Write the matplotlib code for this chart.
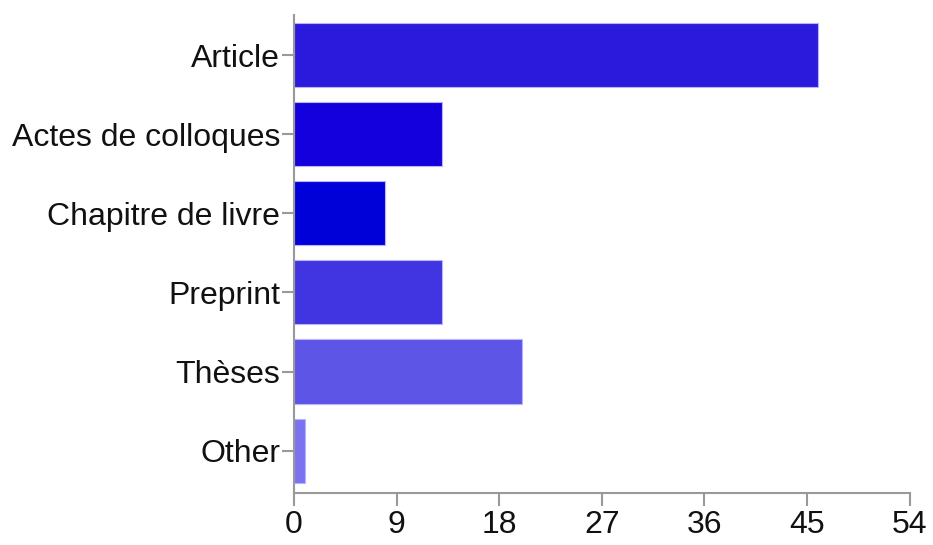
import matplotlib
matplotlib.use("Agg")
import matplotlib.pyplot as plt

categories = ["Article", "Actes de colloques", "Chapitre de livre",
              "Preprint", "Thèses", "Other"]
counts = [46, 13, 8, 13, 20, 1]
colors = ["#2b19dc", "#1400dc", "#0000d8", "#4035e0", "#5c55e6", "#7a72ee"]
xticks = [0, 9, 18, 27, 36, 45, 54]

plt.rcParams['font.family'] = ['Liberation Sans', 'DejaVu Sans']

fig = plt.figure(figsize=(9.33, 5.45), dpi=100)
ax = fig.add_axes([0.315, 0.0954, 0.66, 0.877])

pos = list(range(len(categories)))
ax.barh(pos, counts, height=0.81, color=colors, edgecolor="#b8b4ff", linewidth=0.8)

ax.set_xlim(0, 54)
ax.set_ylim(len(categories) - 0.465, -0.505)
ax.set_xticks(xticks)
ax.set_yticks(pos)
ax.set_yticklabels(categories)

for s in ["top", "right"]:
    ax.spines[s].set_visible(False)
for s in ["left", "bottom"]:
    ax.spines[s].set_color("#999999")
    ax.spines[s].set_linewidth(1.5)

ax.tick_params(axis="both", colors="#999999", labelcolor="#111111",
               labelsize=23, width=1.5, length=9, pad=1)
ax.tick_params(axis="x", pad=3)

fig.savefig("out.png", dpi=100, facecolor="white")
